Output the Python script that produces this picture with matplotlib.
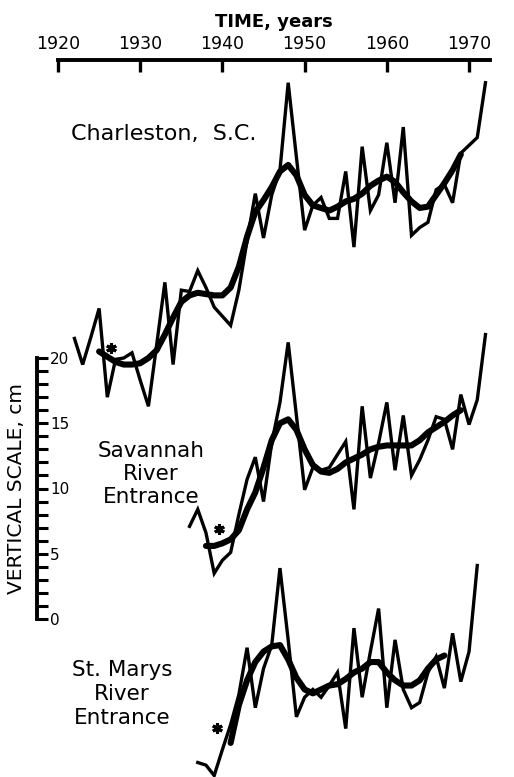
import numpy as np
import matplotlib
matplotlib.use("Agg")
import matplotlib.pyplot as plt
from matplotlib.ticker import MultipleLocator

# Annual mean sea level (thin) and smoothed curve (thick), cm on the vertical scale.
# Each station sits at its own offset on the same scale.
charleston_years = np.arange(1922, 1973)
charleston_annual = [21.5, 19.5, 21.6, 23.8, 17.0, 19.9, 20.0, 20.4, 18.3, 16.3,
                     21.0, 25.8, 19.5, 25.2, 25.1, 26.7, 25.4, 23.9, 23.2, 22.5,
                     25.2, 29.0, 32.6, 29.2, 32.5, 34.4, 41.1, 35.4, 29.8, 31.7,
                     32.3, 30.7, 30.7, 34.3, 28.5, 36.2, 31.3, 32.5, 36.5, 31.9,
                     37.7, 29.4, 30.0, 30.4, 32.9, 33.3, 31.9, 35.7, 36.3, 36.9,
                     41.1]
charleston_smooth_years = np.arange(1925, 1970)
charleston_smooth = [20.5, 20.1, 19.7, 19.5, 19.5, 19.6, 20.0, 20.6, 21.8, 23.1,
                     24.3, 24.8, 25.0, 24.9, 24.8, 24.8, 25.4, 27.0, 29.3, 31.2,
                     32.1, 33.1, 34.3, 34.8, 34.0, 32.5, 31.7, 31.5, 31.3, 31.6,
                     32.0, 32.2, 32.6, 33.2, 33.6, 33.9, 33.5, 32.7, 32.0, 31.5,
                     31.6, 32.5, 33.4, 34.4, 35.6]

savannah_years = np.arange(1936, 1973)
savannah_annual = [7.1, 8.4, 6.6, 3.5, 4.5, 5.1, 8.0, 10.7, 12.4, 9.0,
                   13.5, 16.6, 21.2, 15.6, 9.9, 11.6, 11.4, 11.6, 12.6, 13.6,
                   8.4, 16.3, 10.8, 13.5, 16.6, 11.4, 15.6, 11.0, 12.2, 13.7,
                   15.5, 15.3, 13.0, 17.2, 14.9, 16.8, 21.8]
savannah_smooth_years = np.arange(1938, 1970)
savannah_smooth = [5.6, 5.6, 5.8, 6.1, 6.8, 8.4, 9.7, 11.6, 13.7, 15.0,
                   15.3, 14.5, 13.0, 11.8, 11.3, 11.2, 11.5, 12.0, 12.3, 12.6,
                   13.0, 13.2, 13.3, 13.3, 13.3, 13.3, 13.7, 14.3, 14.7, 15.1,
                   15.6, 16.0]

stmarys_years = np.arange(1937, 1972)
stmarys_annual = [-11.0, -11.2, -12.0, -10.0, -8.1, -5.8, -2.2, -6.8, -3.8, -2.0,
                  3.9, -1.6, -7.5, -6.0, -5.4, -6.0, -5.1, -4.1, -8.4, -0.7,
                  -6.0, -2.5, 0.8, -6.8, -1.6, -5.4, -6.8, -6.4, -4.1, -2.9,
                  -5.3, -1.1, -4.8, -2.5, 4.1]
stmarys_smooth_years = np.arange(1941, 1968)
stmarys_smooth = [-9.5, -6.6, -4.7, -3.3, -2.5, -2.1, -2.0, -3.1, -4.5, -5.4,
                  -5.7, -5.4, -5.1, -5.0, -4.6, -4.1, -3.8, -3.3, -3.3, -4.1,
                  -4.7, -5.1, -5.1, -4.7, -3.8, -3.1, -2.8]

star_years = [1926.5, 1939.6, 1939.3]
star_levels = [20.8, 6.9, -8.35]

time_ticks = [1920, 1930, 1940, 1950, 1960, 1970]
scale_ticks = [0, 5, 10, 15, 20]

plt.rcParams["font.family"] = "DejaVu Sans"

fig = plt.figure(figsize=(5.14, 7.77), dpi=100)
ax = fig.add_axes([58 / 514, 0, 432 / 514, 717 / 777])
ax.set_xlim(1920, 1972.55)
ax.set_ylim(-12.11, 42.84)

annual = [(charleston_years, charleston_annual),
          (savannah_years, savannah_annual),
          (stmarys_years, stmarys_annual)]
smooth = [(charleston_smooth_years, charleston_smooth),
          (savannah_smooth_years, savannah_smooth),
          (stmarys_smooth_years, stmarys_smooth)]

for yrs, vals in annual:
    ax.plot(yrs, vals, color="black", lw=2.4, solid_joinstyle="miter", clip_on=False)
for yrs, vals in smooth:
    ax.plot(yrs, vals, color="black", lw=4.4, solid_capstyle="round", clip_on=False)

ax.plot(star_years, star_levels, ls="none", marker=(6, 2, 0), ms=7.5, mew=2.2,
        color="black", clip_on=False)

# time axis along the top
for side in ["left", "right", "bottom"]:
    ax.spines[side].set_visible(False)
ax.spines["top"].set_linewidth(2.8)
ax.set_yticks([])
ax.xaxis.tick_top()
ax.set_xticks(time_ticks)
ax.tick_params(axis="x", direction="in", length=8.5, width=2.4, labelsize=12.5, pad=5)
ax.xaxis.set_label_position("top")
ax.set_xlabel("TIME, years", fontsize=13, fontweight="bold", labelpad=6)
ax.patch.set_alpha(0)

ax.text(1932.9, 37.2, "Charleston,  S.C.", fontsize=16, ha="center", va="center")
ax.text(1931.3, 11.1, "Savannah\nRiver\nEntrance", fontsize=15.5, ha="center",
        va="center", linespacing=1.18)
ax.text(1927.8, -5.75, "St. Marys\nRiver\nEntrance", fontsize=15.5, ha="center",
        va="center", linespacing=1.25)

# vertical scale bar
ax2 = fig.add_axes([27 / 514, 1 - 619 / 777, 10 / 514, 261 / 777])
ax2.set_ylim(0, 20)
for side in ["left", "top", "bottom"]:
    ax2.spines[side].set_visible(False)
ax2.spines["right"].set_linewidth(2.8)
ax2.set_xticks([])
ax2.yaxis.tick_right()
ax2.set_yticks(scale_ticks)
ax2.yaxis.set_minor_locator(MultipleLocator(1))
ax2.tick_params(axis="y", which="both", direction="out", length=8, width=2.2,
                labelsize=11, pad=1.5)
ax2.yaxis.set_label_position("left")
ax2.set_ylabel("VERTICAL SCALE, cm", fontsize=14.5, labelpad=1)
ax2.patch.set_alpha(0)

fig.savefig("out.png", dpi=100, facecolor="white")
